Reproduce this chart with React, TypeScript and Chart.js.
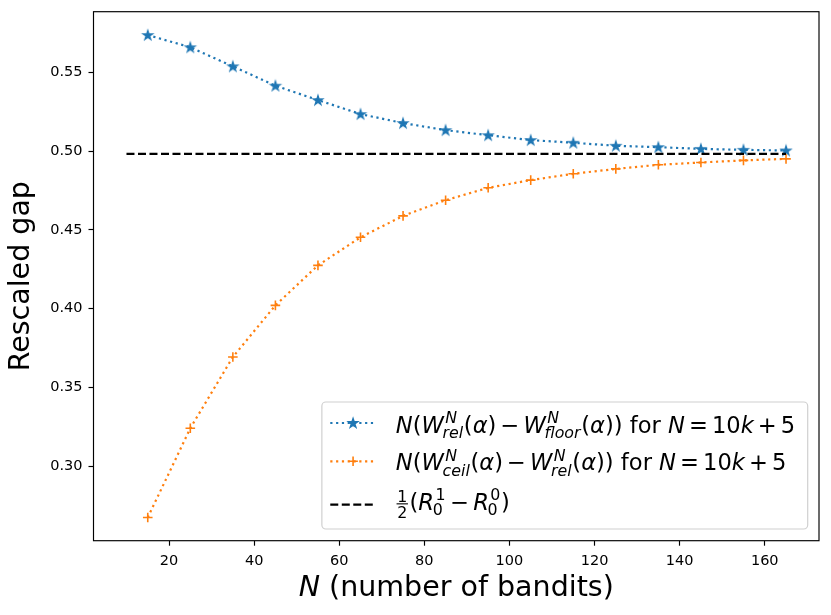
import React, { useEffect, useRef } from "react";
import { Chart, registerables } from "chart.js";

Chart.register(...registerables);

// ---- data ----
const nValues = [15, 25, 35, 45, 55, 65, 75, 85, 95, 105, 115, 125, 135, 145, 155, 165];
const floorGap = [0.5737, 0.5659, 0.5538, 0.5415, 0.5324, 0.5235, 0.5178, 0.5133, 0.5101, 0.507, 0.5053, 0.5034, 0.5025, 0.5014, 0.5008, 0.5004];
const ceilGap = [0.2674, 0.3241, 0.3693, 0.4021, 0.4275, 0.4453, 0.4589, 0.4688, 0.4767, 0.4816, 0.4856, 0.4887, 0.4913, 0.4928, 0.4941, 0.4951];
const limitN = [10, 165];
const limitGap = [0.4983, 0.4983];
const xTicks = [20, 40, 60, 80, 100, 120, 140, 160];
const yTicks = [0.3, 0.35, 0.4, 0.45, 0.5, 0.55];
const xRange = [2.25, 172.75];
const yRange = [0.2527, 0.5885];

const xTitleItalic = "N";
const xTitleRest = " (number of bandits)";
const yTitle = "Rescaled gap";

type Piece = { t: string; it?: boolean; sup?: string; sub?: string; op?: boolean; num?: string; den?: string };

const legendFloorLabel: Piece[] = [
  { t: "N", it: true }, { t: "(" }, { t: "W", it: true, sup: "N", sub: "rel" }, { t: "(" }, { t: "α", it: true }, { t: ")" },
  { t: "−", op: true }, { t: "W", it: true, sup: "N", sub: "floor" }, { t: "(" }, { t: "α", it: true }, { t: "))" },
  { t: " for " }, { t: "N", it: true }, { t: "=", op: true }, { t: "10" }, { t: "k", it: true }, { t: "+", op: true }, { t: "5" },
];
const legendCeilLabel: Piece[] = [
  { t: "N", it: true }, { t: "(" }, { t: "W", it: true, sup: "N", sub: "ceil" }, { t: "(" }, { t: "α", it: true }, { t: ")" },
  { t: "−", op: true }, { t: "W", it: true, sup: "N", sub: "rel" }, { t: "(" }, { t: "α", it: true }, { t: "))" },
  { t: " for " }, { t: "N", it: true }, { t: "=", op: true }, { t: "10" }, { t: "k", it: true }, { t: "+", op: true }, { t: "5" },
];
const legendLimitLabel: Piece[] = [
  { t: "", num: "1", den: "2" }, { t: "(" }, { t: "R", it: true, sup: "1", sub: "0" }, { t: "−", op: true },
  { t: "R", it: true, sup: "0", sub: "0" }, { t: ")" },
];

const BLUE = "#1f77b4";
const ORANGE = "#ff7f0e";
const FONT = '"DejaVu Sans"';

function fnt(it: boolean, size: number) {
  return `${it ? "italic " : ""}${size}px ${FONT}`;
}

function richText(ctx: CanvasRenderingContext2D, pieces: Piece[], x0: number, base: number, F: number, draw: boolean) {
  let x = x0;
  const S = F * 0.7;
  for (const p of pieces) {
    if (p.num !== undefined && p.den !== undefined) {
      ctx.font = fnt(false, S);
      const wn = ctx.measureText(p.num).width;
      const wd = ctx.measureText(p.den).width;
      const w = Math.max(wn, wd) + F * 0.12;
      if (draw) {
        const axis = base - F * 0.25;
        ctx.fillText(p.num, x + (w - wn) / 2, axis - F * 0.1);
        ctx.fillText(p.den, x + (w - wd) / 2, axis + F * 0.1 + S * 0.73);
        ctx.fillRect(x + F * 0.03, axis - 0.55, w - F * 0.06, 1.1);
      }
      x += w + F * 0.04;
      continue;
    }
    const pad = p.op ? F * 0.18 : 0;
    x += pad;
    ctx.font = fnt(!!p.it, F);
    const w = ctx.measureText(p.t).width;
    if (draw) ctx.fillText(p.t, x, base);
    x += w;
    if (p.sup || p.sub) {
      let ws = 0;
      const both = !!(p.sup && p.sub);
      if (p.sup) {
        ctx.font = fnt(/[A-Za-z]/.test(p.sup), S);
        const wsu = ctx.measureText(p.sup).width;
        const dx = p.it ? F * 0.06 : 0;
        if (draw) ctx.fillText(p.sup, x + dx, base - F * 0.42);
        ws = Math.max(ws, wsu + dx);
      }
      if (p.sub) {
        ctx.font = fnt(/[A-Za-z]/.test(p.sub), S);
        const wsb = ctx.measureText(p.sub).width;
        const dx = p.it ? -F * 0.06 : 0;
        if (draw) ctx.fillText(p.sub, x + dx, base + (both ? F * 0.26 : F * 0.2));
        ws = Math.max(ws, wsb + dx);
      }
      x += ws + F * 0.03;
    }
    x += pad;
  }
  return x - x0;
}

function starPath(ctx: CanvasRenderingContext2D, cx: number, cy: number, R: number) {
  const r = R * 0.381966;
  ctx.beginPath();
  for (let i = 0; i < 10; i++) {
    const a = -Math.PI / 2 + (i * Math.PI) / 5;
    const rad = i % 2 === 0 ? R : r;
    const px = cx + rad * Math.cos(a);
    const py = cy + rad * Math.sin(a);
    if (i === 0) ctx.moveTo(px, py);
    else ctx.lineTo(px, py);
  }
  ctx.closePath();
}

function drawStar(ctx: CanvasRenderingContext2D, cx: number, cy: number) {
  starPath(ctx, cx, cy, 4.8);
  ctx.fillStyle = BLUE;
  ctx.strokeStyle = BLUE;
  ctx.lineWidth = 1.4;
  ctx.lineJoin = "miter";
  ctx.fill();
  ctx.stroke();
}

function makeStarImage() {
  const c = document.createElement("canvas");
  c.width = 16;
  c.height = 16;
  const g = c.getContext("2d")!;
  drawStar(g, 8, 8.4);
  return c;
}

function drawPlus(ctx: CanvasRenderingContext2D, cx: number, cy: number) {
  ctx.strokeStyle = ORANGE;
  ctx.lineWidth = 1.6;
  ctx.setLineDash([]);
  ctx.beginPath();
  ctx.moveTo(cx - 4.8, cy);
  ctx.lineTo(cx + 4.8, cy);
  ctx.moveTo(cx, cy - 4.8);
  ctx.lineTo(cx, cy + 4.8);
  ctx.stroke();
}

const decorPlugin = {
  id: "decor",
  afterDraw(chart: any) {
    const ctx: CanvasRenderingContext2D = chart.ctx;
    const area = chart.chartArea;
    ctx.save();
    // frame
    ctx.strokeStyle = "#000";
    ctx.lineWidth = 1.16;
    ctx.setLineDash([]);
    ctx.strokeRect(area.left, area.top, area.right - area.left, area.bottom - area.top);

    // x title with italic N
    const TF = 28.5;
    ctx.fillStyle = "#000";
    ctx.textBaseline = "alphabetic";
    ctx.textAlign = "left";
    ctx.font = fnt(true, TF);
    const w1 = ctx.measureText(xTitleItalic).width;
    ctx.font = fnt(false, TF);
    const w2 = ctx.measureText(xTitleRest).width;
    const cx = (area.left + area.right) / 2;
    const sx = cx - (w1 + w2) / 2;
    ctx.font = fnt(true, TF);
    ctx.fillText(xTitleItalic, sx, area.bottom + 55);
    ctx.font = fnt(false, TF);
    ctx.fillText(xTitleRest, sx + w1, area.bottom + 55);

    // legend
    const F = 22.6;
    const rows = [legendFloorLabel, legendCeilLabel, legendLimitLabel];
    const widths = rows.map((r) => richText(ctx, r, 0, 0, F, false));
    const maxW = Math.max(...widths);
    const right = area.right - 11.3;
    const bottom = area.bottom - 11.7;
    const top = bottom - 127;
    const left = right - (74 + maxW + 12.5);
    ctx.beginPath();
    const rr = 4;
    ctx.moveTo(left + rr, top);
    ctx.lineTo(right - rr, top);
    ctx.arcTo(right, top, right, top + rr, rr);
    ctx.lineTo(right, bottom - rr);
    ctx.arcTo(right, bottom, right - rr, bottom, rr);
    ctx.lineTo(left + rr, bottom);
    ctx.arcTo(left, bottom, left, bottom - rr, rr);
    ctx.lineTo(left, top + rr);
    ctx.arcTo(left, top, left + rr, top, rr);
    ctx.closePath();
    ctx.fillStyle = "rgba(255,255,255,0.8)";
    ctx.fill();
    ctx.strokeStyle = "#d0d0d0";
    ctx.lineWidth = 1.2;
    ctx.stroke();

    const hx0 = left + 8.4;
    const hx1 = left + 54;
    const hys = [top + 21, top + 59.3, top + 102.7];
    const bases = [top + 30.5, top + 68.2, top + 107.5];
    // handle 1
    ctx.lineWidth = 2.2;
    ctx.lineCap = "butt";
    ctx.setLineDash([2.2, 3.6]);
    ctx.strokeStyle = BLUE;
    ctx.beginPath();
    ctx.moveTo(hx0, hys[0]);
    ctx.lineTo(hx1, hys[0]);
    ctx.stroke();
    ctx.setLineDash([]);
    drawStar(ctx, (hx0 + hx1) / 2, hys[0] + 0.3);
    // handle 2
    ctx.lineWidth = 2.2;
    ctx.setLineDash([2.2, 3.6]);
    ctx.strokeStyle = ORANGE;
    ctx.beginPath();
    ctx.moveTo(hx0, hys[1]);
    ctx.lineTo(hx1, hys[1]);
    ctx.stroke();
    drawPlus(ctx, (hx0 + hx1) / 2, hys[1]);
    // handle 3
    ctx.lineWidth = 2.2;
    ctx.setLineDash([8, 3.5]);
    ctx.strokeStyle = "#000";
    ctx.beginPath();
    ctx.moveTo(hx0, hys[2]);
    ctx.lineTo(hx1, hys[2]);
    ctx.stroke();
    ctx.setLineDash([]);

    ctx.fillStyle = "#000";
    ctx.textBaseline = "alphabetic";
    rows.forEach((r, i) => richText(ctx, r, left + 74, bases[i], F, true));
    ctx.restore();
  },
};

export default function App() {
  const ref = useRef<HTMLCanvasElement | null>(null);
  useEffect(() => {
    if (!ref.current) return;
    Chart.defaults.font.family = FONT;
    const star = makeStarImage();
    const chart = new Chart(ref.current, {
      type: "line",
      data: {
        datasets: [
          {
            label: "limit",
            data: limitN.map((x, i) => ({ x, y: limitGap[i] })),
            borderColor: "#000",
            borderWidth: 2.2,
            borderDash: [8, 3.5],
            pointRadius: 0,
            fill: false,
            tension: 0,
          },
          {
            label: "ceil",
            data: nValues.map((x, i) => ({ x, y: ceilGap[i] })),
            borderColor: ORANGE,
            borderWidth: 2.2,
            borderDash: [2.2, 3.6],
            pointStyle: "cross",
            pointRadius: 4.8,
            pointBorderWidth: 1.6,
            pointBorderColor: ORANGE,
            pointBackgroundColor: ORANGE,
            fill: false,
            tension: 0,
          },
          {
            label: "floor",
            data: nValues.map((x, i) => ({ x, y: floorGap[i] })),
            borderColor: BLUE,
            borderWidth: 2.2,
            borderDash: [2.2, 3.6],
            pointStyle: star as any,
            pointRadius: 5,
            fill: false,
            tension: 0,
          },
        ],
      },
      options: {
        animation: false,
        responsive: false,
        devicePixelRatio: window.devicePixelRatio || 1,
        layout: { padding: { top: 11.7, right: 12, left: 0, bottom: 0 } },
        plugins: { legend: { display: false }, tooltip: { enabled: false } },
        scales: {
          x: {
            type: "linear",
            min: xRange[0],
            max: xRange[1],
            afterBuildTicks: (axis: any) => {
              axis.ticks = xTicks.map((v) => ({ value: v }));
            },
            afterFit: (axis: any) => {
              axis.height = 74.3;
              axis.paddingLeft = 0;
              axis.paddingRight = 0;
            },
            ticks: {
              color: "#000",
              font: { size: 14.5, family: FONT },
              padding: 6.5,
              maxRotation: 0,
              autoSkip: false,
              callback: (v: any) => String(v),
            },
            grid: {
              drawOnChartArea: false,
              drawTicks: true,
              tickLength: 5,
              tickWidth: 1.16,
              tickColor: "#000",
            },
            border: { display: false },
          },
          y: {
            type: "linear",
            min: yRange[0],
            max: yRange[1],
            afterBuildTicks: (axis: any) => {
              axis.ticks = yTicks.map((v) => ({ value: v }));
            },
            afterFit: (axis: any) => {
              axis.width = 93.5;
              axis.paddingTop = 0;
              axis.paddingBottom = 0;
            },
            ticks: {
              color: "#000",
              font: { size: 14.5, family: FONT },
              padding: 6,
              autoSkip: false,
              callback: (v: any) => Number(v).toFixed(2),
            },
            grid: {
              drawOnChartArea: false,
              drawTicks: true,
              tickLength: 5,
              tickWidth: 1.16,
              tickColor: "#000",
            },
            border: { display: false },
            title: {
              display: true,
              text: yTitle,
              color: "#000",
              font: { size: 28.5, family: FONT },
              padding: { top: 4, bottom: 0 },
            },
          },
        },
      },
      plugins: [decorPlugin],
    });
    return () => chart.destroy();
  }, []);
  return (
    <div style={{ position: "absolute", left: 0, top: 0, width: 831, height: 615, background: "#fff" }}>
      <canvas ref={ref} width={831} height={615} style={{ width: 831, height: 615, display: "block" }} />
    </div>
  );
}
